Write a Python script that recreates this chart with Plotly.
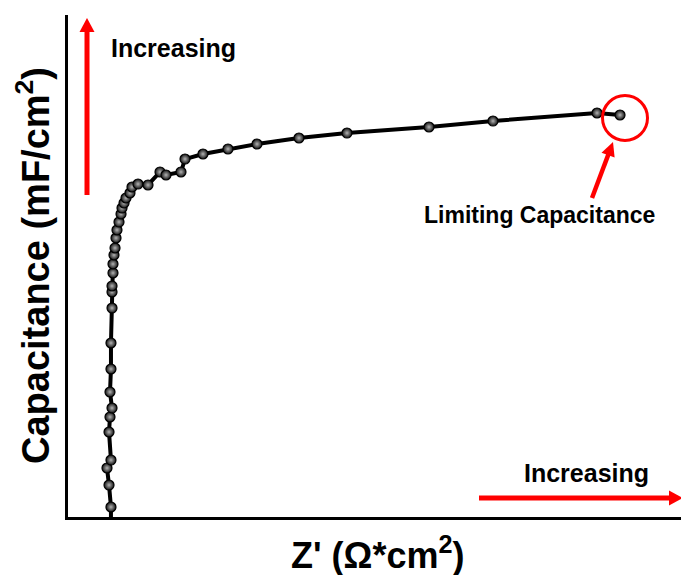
import math
import plotly.graph_objects as go

# Z' (Ohm*cm^2) and capacitance (mF/cm^2), arbitrary-unit readings along the curve
z_real = [7.0, 7.01, 6.69, 6.36, 7.01, 6.69, 6.85, 7.18, 6.85, 7.01, 7.01, 7.18, 7.18,
          7.18, 7.34, 7.34, 7.50, 7.67, 7.83, 7.99, 8.32, 8.65, 8.81, 9.14, 9.46,
          10.11, 10.44, 11.42, 13.05, 15.01, 15.99, 18.43, 19.09, 22.02, 26.10,
          30.83, 37.68, 45.51, 58.89, 69.33, 86.30, 90.05]
capacitance = [-1.5, 1.99, 6.37, 9.76, 11.35, 16.93, 19.92, 21.71, 24.90, 29.48, 34.66,
               41.63, 44.82, 46.02, 48.61, 50.40, 52.19, 53.59, 55.58, 57.17, 58.76,
               60.36, 61.55, 62.55, 63.55, 64.54, 65.74, 66.33, 66.14, 68.73, 68.13,
               68.73, 71.31, 72.31, 73.31, 74.30, 75.50, 76.49, 77.69, 78.88, 80.48,
               80.08]

W, H = 681, 575
ML, MR, MT, MB = 68, 0, 15, 58
PW, PH = W - ML - MR, H - MT - MB
RED = "#ff0000"
FONT = "Liberation Sans, Arial, sans-serif"


def px(x):
    return (x - ML) / PW


def py(y):
    return (H - MB - y) / PH


def arrow(x0, y0, x1, y1, width=5, head_len=14, head_half=7.5):
    """Red arrow from (x0, y0) to tip (x1, y1), given in page pixels."""
    dx, dy = x1 - x0, y1 - y0
    n = math.hypot(dx, dy)
    ux, uy = dx / n, dy / n
    bx, by = x1 - head_len * ux, y1 - head_len * uy
    pxn, pyn = -uy, ux
    c1 = (bx + head_half * pxn, by + head_half * pyn)
    c2 = (bx - head_half * pxn, by - head_half * pyn)
    shaft = dict(type="line", xref="paper", yref="paper",
                 x0=px(x0), y0=py(y0), x1=px(bx + ux), y1=py(by + uy),
                 line=dict(color=RED, width=width))
    head = dict(type="path", xref="paper", yref="paper",
                path=(f"M{px(x1)},{py(y1)} L{px(c1[0])},{py(c1[1])} "
                      f"L{px(c2[0])},{py(c2[1])} Z"),
                fillcolor=RED, line=dict(color=RED, width=0))
    return [shaft, head]


fig = go.Figure()
fig.add_trace(go.Scatter(
    x=z_real, y=capacitance, mode="lines+markers",
    line=dict(color="black", width=4),
    marker=dict(size=10, color="#111111",
                gradient=dict(type="radial", color="#b4b4b4"),
                line=dict(color="black", width=1.2)),
    showlegend=False,
))

shapes = []
shapes += arrow(87, 195, 87, 18)
shapes += arrow(479, 498, 683, 498)
shapes += arrow(592, 198, 613, 142, width=4.5, head_len=14, head_half=7)
shapes.append(dict(type="circle", xref="paper", yref="paper",
                   x0=px(602.5), x1=px(647.5), y0=py(140.5), y1=py(95.5),
                   line=dict(color=RED, width=3)))

annotations = [
    dict(text="Increasing", x=px(109), y=py(48), xref="paper", yref="paper",
         xanchor="left", yanchor="middle", showarrow=False,
         font=dict(family=FONT, size=25, color="black", weight="bold")),
    dict(text="Increasing", x=px(522), y=py(473), xref="paper", yref="paper",
         xanchor="left", yanchor="middle", showarrow=False,
         font=dict(family=FONT, size=25, color="black", weight="bold")),
    dict(text="Limiting Capacitance", x=px(539), y=py(215), xref="paper", yref="paper",
         xanchor="center", yanchor="middle", showarrow=False,
         font=dict(family=FONT, size=23, color="black", weight="bold")),
    dict(text="Z' (\u03a9*cm<sup>2</sup>)", x=px(377), y=py(553), xref="paper",
         yref="paper", xanchor="center", yanchor="middle", showarrow=False,
         font=dict(family=FONT, size=36, color="black", weight="bold")),
    dict(text="Capacitance (mF/cm<sup>2</sup>)", x=px(33), y=py(266), xref="paper",
         yref="paper", xanchor="center", yanchor="middle", showarrow=False,
         textangle=-90,
         font=dict(family=FONT, size=38, color="black", weight="bold")),
]

axis_common = dict(showline=True, linecolor="black", linewidth=2.5, showgrid=False,
                   zeroline=False, showticklabels=False, ticks="", mirror=False)

fig.update_layout(
    width=W, height=H,
    margin=dict(l=ML, r=MR, t=MT, b=MB),
    paper_bgcolor="white", plot_bgcolor="white",
    xaxis=dict(range=[0, 100], **axis_common),
    yaxis=dict(range=[0, 100], **axis_common),
    shapes=shapes, annotations=annotations,
)

fig.write_html("out.html")
